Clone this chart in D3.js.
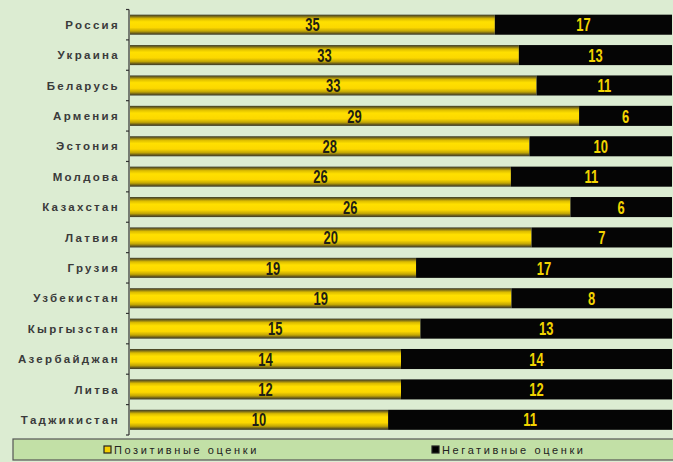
<!DOCTYPE html>
<html>
<head>
<meta charset="utf-8">
<script src="https://cdn.jsdelivr.net/npm/d3@7"></script>
<style>
  html, body { margin: 0; padding: 0; background: #dcecd2; }
  svg { display: block; }
</style>
</head>
<body>
<div id="chart"></div>
<script>
// countries, top to bottom
var countries = ['Россия', 'Украина', 'Беларусь', 'Армения', 'Эстония', 'Молдова', 'Казахстан',
  'Латвия', 'Грузия', 'Узбекистан', 'Кыргызстан', 'Азербайджан', 'Литва', 'Таджикистан'];
var positive = [35, 33, 33, 29, 28, 26, 26, 20, 19, 19, 15, 14, 12, 10];
var negative = [17, 13, 11, 6, 10, 11, 6, 7, 17, 8, 13, 14, 12, 11];
var seriesNames = ['Позитивные оценки', 'Негативные оценки'];

var width = 673, height = 462;
var plotLeft = 130, plotRight = 672, plotTop = 9.5, plotBottom = 435;

var svg = d3.select('#chart').append('svg').attr('width', width).attr('height', height);

var defs = svg.append('defs');
var grad = defs.append('linearGradient').attr('id', 'yel').attr('x1', 0).attr('y1', 0).attr('x2', 0).attr('y2', 1);
[[0, '#3a3a2a'], [0.08, '#76681a'], [0.2, '#dcbc00'], [0.36, '#ffe000'], [0.64, '#fcd800'], [0.82, '#c2a604'], [0.93, '#665a1c'], [1, '#3a3a2a']]
  .forEach(function(s) { grad.append('stop').attr('offset', s[0]).attr('stop-color', s[1]); });

var y = d3.scaleBand().domain(countries).range([plotTop, plotBottom]).paddingInner(0.34).paddingOuter(0.17);
var x = d3.scaleLinear().domain([0, 1]).range([plotLeft, plotRight]);

var rows = countries.map(function(c, i) {
  var tot = positive[i] + negative[i];
  return { name: c, pos: positive[i], neg: negative[i], p: positive[i] / tot };
});

// axis with ticks between categories
svg.append('line').attr('x1', plotLeft - 1).attr('x2', plotLeft - 1).attr('y1', plotTop).attr('y2', plotBottom)
  .attr('stroke', '#333').attr('stroke-width', 1.2);
var step = y.step();
d3.range(countries.length + 1).forEach(function(i) {
  var ty = plotTop + i * step;
  svg.append('line').attr('x1', plotLeft - 4).attr('x2', plotLeft - 1).attr('y1', ty).attr('y2', ty)
    .attr('stroke', '#333').attr('stroke-width', 1.2);
});

var g = svg.selectAll('g.row').data(rows).enter().append('g').attr('class', 'row');

g.append('rect')
  .attr('x', x(0)).attr('y', function(d) { return y(d.name); })
  .attr('width', function(d) { return x(d.p) - x(0); })
  .attr('height', y.bandwidth())
  .attr('fill', 'url(#yel)');

g.append('rect')
  .attr('x', function(d) { return x(d.p); }).attr('y', function(d) { return y(d.name); })
  .attr('width', function(d) { return x(1) - x(d.p); })
  .attr('height', y.bandwidth())
  .attr('fill', '#050505');

// narrow bold numbers: squeeze horizontally
function numLabel(sel, cx, val, fill) {
  sel.append('text')
    .attr('transform', function(d) {
      return 'translate(' + cx(d) + ',' + (y(d.name) + y.bandwidth() / 2) + ') scale(0.72,1)';
    })
    .attr('dy', '0.37em').attr('text-anchor', 'middle')
    .style('font-family', 'Arial, "Liberation Sans", sans-serif').style('font-weight', 'bold')
    .style('font-size', '18px')
    .attr('fill', fill)
    .text(val);
}
numLabel(g, function(d) { return (x(0) + x(d.p)) / 2; }, function(d) { return d.pos; }, '#1e1e14');
numLabel(g, function(d) { return (x(d.p) + x(1)) / 2; }, function(d) { return d.neg; }, '#f2d400');

g.append('text')
  .attr('x', 120)
  .attr('y', function(d) { return y(d.name) + y.bandwidth() / 2; })
  .attr('dy', '0.36em').attr('text-anchor', 'end')
  .style('font-family', 'Arial, "Liberation Sans", sans-serif').style('font-size', '11.5px')
  .style('font-weight', 'bold').style('letter-spacing', '2.3px')
  .attr('fill', '#3a3a3a')
  .text(function(d) { return d.name; });

// legend
var lg = svg.append('g');
lg.append('rect').attr('x', 13).attr('y', 439).attr('width', 662).attr('height', 21)
  .attr('fill', '#c2e0a6').attr('stroke', '#555').attr('stroke-width', 1.2);
var legendItems = [{ name: seriesNames[0], fill: '#f5d000', x: 104 }, { name: seriesNames[1], fill: '#000', x: 432 }];
legendItems.forEach(function(it) {
  lg.append('rect').attr('x', it.x).attr('y', 446).attr('width', 7).attr('height', 7)
    .attr('fill', it.fill).attr('stroke', '#222').attr('stroke-width', 1.2);
  lg.append('text').attr('x', it.x + 10).attr('y', 450).attr('dy', '0.36em')
    .style('font-family', 'Arial, "Liberation Sans", sans-serif').style('font-size', '11px')
    .style('letter-spacing', '2.6px').attr('fill', '#222')
    .text(it.name);
});
</script>
</body>
</html>
